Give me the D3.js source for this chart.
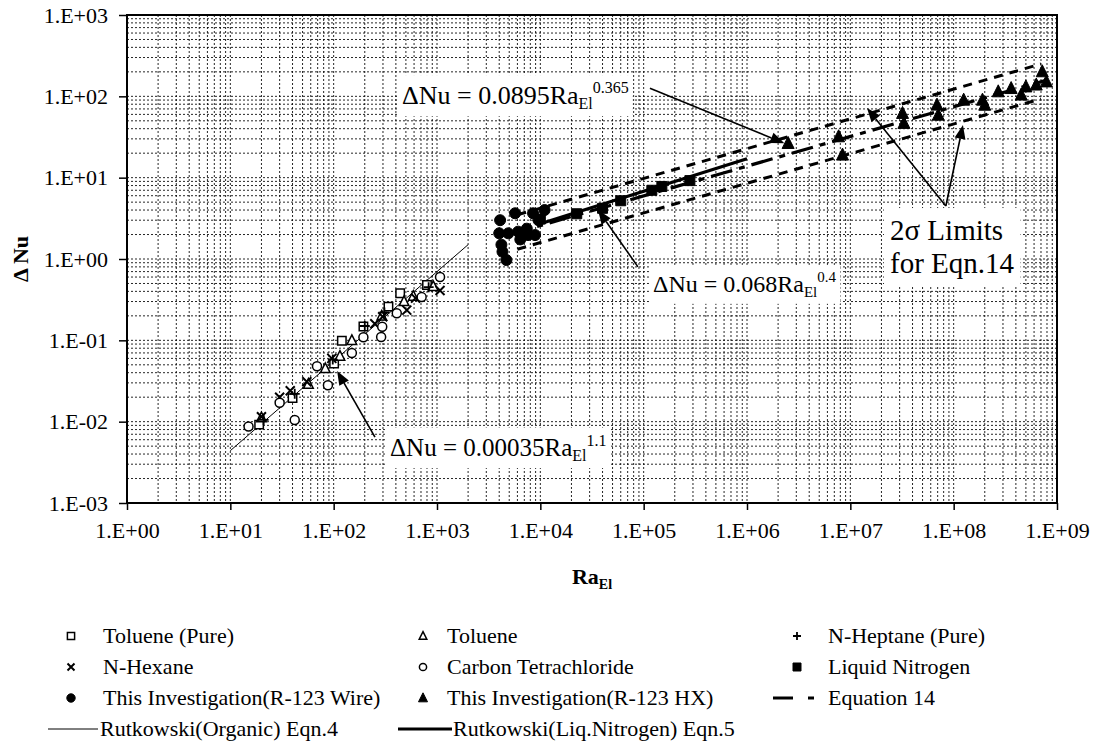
<!DOCTYPE html>
<meta charset="utf-8">
<style>
body { margin: 0; background: #fff; }
text { font-family: "Liberation Serif", "Times New Roman", serif; fill: #000; }
.grid line { stroke: #000; stroke-width: 1; stroke-dasharray: 2,2; stroke-opacity: 0.85; }
.axis text { font-size: 22px; font-family: "Liberation Serif", serif; }
.axis line { stroke: #000; stroke-width: 1.5; }
.legend text { font-size: 22px; }
</style>
<svg width="1096" height="754"></svg>
<script src="https://d3js.org/d3.v7.min.js"></script>
<script>

// [Ra_El, delta Nu]
var toluenePure = [[19,0.0092],[40,0.0195],[101,0.052],[120,0.099],[194,0.148],[339,0.26],[440,0.38],[800,0.48]];
var toluene = [[20,0.0112],[57,0.029],[83,0.045],[115,0.064],[150,0.1],[292,0.2],[480,0.3],[590,0.35],[920,0.46]];
var nHeptane = [[21,0.0105],[42,0.022],[98,0.058],[200,0.15],[310,0.22],[830,0.45]];
var nHexane = [[20,0.0115],[30,0.02],[38,0.024],[55,0.031],[96,0.06],[250,0.16],[298,0.195],[510,0.235],[620,0.33],[1070,0.41]];
var carbonTet = [[15,0.0087],[30,0.0171],[42,0.0105],[69,0.048],[88,0.028],[150,0.07],[194,0.109],[288,0.11],[295,0.147],[408,0.215],[710,0.34],[1070,0.6]];
var liquidN2 = [[10000,3.1],[22500,3.6],[40000,4.2],[60000,5.2],[120000,7.0],[150000,7.8],[280000,9.2]];
var r123Wire = [[4000,2.07],[4080,3.0],[4200,1.5],[4300,1.23],[4700,0.97],[4900,2.07],[5700,3.65],[6100,2.17],[6400,1.74],[7400,2.36],[7600,1.97],[8500,3.65],[8900,1.97],[9600,3.0],[11000,4.0]];
var r123HX = [[2.5e6,26.4],[7.7e6,31.9],[8.4e6,19.0],[3.2e7,61.8],[3.3e7,46.6],[6.9e7,78.2],[7.1e7,58.9],[1.25e8,90],[1.9e8,90],[2.0e8,78],[2.7e8,114],[3.6e8,125],[4.5e8,104],[5.0e8,131],[6.3e8,138],[7.2e8,201],[7.9e8,151]];

// correlation lines (end points)
var rutkowskiOrganic = [[10,0.0044],[2000,1.5]];
var rutkowskiLN2 = [[1e4,2.71],[1e6,17.1]];
var eq14 = [[5000,2.0],[8e8,159]];
var eq14Upper = [[6000,3.5],[7e8,250]];
var eq14Lower = [[6000,1.32],[7e8,93]];

var xDecades = [0,1,2,3,4,5,6,7,8,9];
var yDecades = [-3,-2,-1,0,1,2,3];

var svg = d3.select("svg"),
    margin = {top: 15, right: 39, bottom: 251, left: 127},
    width = +svg.attr("width") - margin.left - margin.right,
    height = +svg.attr("height") - margin.top - margin.bottom;

var x = d3.scaleLog().domain([1, 1e9]).range([0, width]);
var y = d3.scaleLog().domain([1e-3, 1e3]).range([height, 0]);

var g = svg.append("g").attr("transform", "translate(" + margin.left + "," + margin.top + ")");

function fmt(v) {
  var e = Math.round(Math.log10(v));
  return "1.E" + (e < 0 ? "-" : "+") + (Math.abs(e) < 10 ? "0" : "") + Math.abs(e);
}

// grid
var grid = g.append("g").attr("class", "grid");
grid.selectAll(".gx").data(x.ticks(20)).enter().append("line")
    .attr("x1", d => x(d)).attr("x2", d => x(d)).attr("y1", 0).attr("y2", height);
grid.selectAll(".gy").data(y.ticks(20)).enter().append("line")
    .attr("y1", d => y(d)).attr("y2", d => y(d)).attr("x1", 0).attr("x2", width);

// axes
g.append("g").attr("class", "axis")
    .attr("transform", "translate(0," + height + ")")
    .call(d3.axisBottom(x).tickValues(xDecades.map(p => Math.pow(10, p))).tickFormat(fmt)
      .tickSize(7).tickPadding(12).tickSizeOuter(0))
    .call(s => s.select(".domain").remove());
g.append("g").attr("class", "axis")
    .call(d3.axisLeft(y).tickValues(yDecades.map(p => Math.pow(10, p))).tickFormat(fmt)
      .tickSize(8).tickPadding(11).tickSizeOuter(0))
    .call(s => s.select(".domain").remove());

// axis titles
svg.append("text")
    .attr("transform", "translate(28," + (margin.top + height / 2) + ") rotate(-90)")
    .attr("text-anchor", "middle")
    .style("font-size", "22px").style("font-weight", "bold")
    .text("\u0394 Nu");
var xt = svg.append("text")
    .attr("x", margin.left + width / 2).attr("y", 584)
    .attr("text-anchor", "middle")
    .style("font-size", "22px").style("font-weight", "bold");
xt.append("tspan").text("Ra");
xt.append("tspan").attr("dy", 5).style("font-size", "14px").text("El");

// annotation boxes + text
var notes = g.append("g");

function eqText(xv, yv, coef, exp, size) {
  var t = notes.append("text").attr("x", x(xv)).attr("y", y(yv)).style("font-size", size + "px");
  t.append("tspan").text("\u0394Nu = " + coef + "Ra");
  t.append("tspan").attr("dy", size * 0.2).style("font-size", Math.round(size * 0.62) + "px").text("El");
  t.append("tspan").attr("dy", -size * 0.62).style("font-size", Math.round(size * 0.62) + "px").text(exp);
  return t;
}
function box(t, pad) {
  var b = t.node().getBBox();
  notes.insert("rect", function() { return t.node(); })
      .attr("x", b.x - pad).attr("y", b.y - pad)
      .attr("width", b.width + 2 * pad).attr("height", b.height + 2 * pad)
      .attr("fill", "#fff");
}

box(eqText(351, 0.00378, "0.00035", "1.1", 25), 4);
box(eqText(123000, 0.393, "0.068", "0.4", 24), 4);
box(eqText(459, 80.5, "0.0895", "0.365", 26), 4);

var sig = notes.append("g");
sig.append("text").attr("x", x(2.42e7)).attr("y", y(1.71)).style("font-size", "29px").text("2\u03c3 Limits");
sig.append("text").attr("x", x(2.42e7)).attr("y", y(0.673)).style("font-size", "29px").text("for Eqn.14");
var sb = sig.node().getBBox();
sig.insert("rect", "text").attr("x", sb.x - 6).attr("y", sb.y - 6)
    .attr("width", sb.width + 12).attr("height", sb.height + 12).attr("fill", "#fff");

// lines
var line = d3.line().x(d => x(d[0])).y(d => y(d[1]));
var lines = g.append("g").attr("fill", "none").attr("stroke", "#000");
lines.append("path").datum(rutkowskiOrganic).attr("d", line).attr("stroke-width", 1);
lines.append("path").datum(rutkowskiLN2).attr("d", line).attr("stroke-width", 3.2);
lines.append("path").datum(eq14).attr("d", line).attr("stroke-width", 3.2).attr("stroke-dasharray", "22,7,6,7");
lines.append("path").datum(eq14Upper).attr("d", line).attr("stroke-width", 3).attr("stroke-dasharray", "9,7");
lines.append("path").datum(eq14Lower).attr("d", line).attr("stroke-width", 3).attr("stroke-dasharray", "9,7");

// marker shapes
function shape(type, s) {
  switch (type) {
    case "square": return "M" + -s + "," + -s + "h" + 2 * s + "v" + 2 * s + "h" + -2 * s + "Z";
    case "triangle": return "M0," + (-1.15 * s) + "L" + s + "," + (0.85 * s) + "L" + -s + "," + (0.85 * s) + "Z";
    case "circle": return "M" + s + ",0A" + s + "," + s + " 0 1,1 " + -s + ",0A" + s + "," + s + " 0 1,1 " + s + ",0Z";
    case "plus": return "M" + -s + ",0H" + s + "M0," + -s + "V" + s;
    case "cross": return "M" + -s + "," + -s + "L" + s + "," + s + "M" + -s + "," + s + "L" + s + "," + -s;
  }
}

var series = [
  {name: "Toluene (Pure)", data: toluenePure, type: "square", fill: "#fff", size: 4.2, lsize: 3.6, sw: 1.5},
  {name: "Toluene", data: toluene, type: "triangle", fill: "#fff", size: 4.8, lsize: 3.8, sw: 1.5},
  {name: "N-Heptane (Pure)", data: nHeptane, type: "plus", fill: "none", size: 5, lsize: 4, sw: 1.8},
  {name: "N-Hexane", data: nHexane, type: "cross", fill: "none", size: 4.5, lsize: 3.5, sw: 2},
  {name: "Carbon Tetrachloride", data: carbonTet, type: "circle", fill: "#fff", size: 4.5, lsize: 3.6, sw: 1.5},
  {name: "Liquid Nitrogen", data: liquidN2, type: "square", fill: "#000", size: 5, lsize: 4, sw: 1},
  {name: "This Investigation(R-123 Wire)", data: r123Wire, type: "circle", fill: "#000", size: 5.5, lsize: 4.2, sw: 1},
  {name: "This Investigation(R-123 HX)", data: r123HX, type: "triangle", fill: "#000", size: 6, lsize: 4.5, sw: 1}
];

var marks = g.append("g");
series.forEach(function(s) {
  marks.append("g").selectAll("path").data(s.data).enter().append("path")
      .attr("transform", d => "translate(" + x(d[0]) + "," + y(d[1]) + ")")
      .attr("d", shape(s.type, s.size))
      .attr("fill", s.fill).attr("stroke", "#000").attr("stroke-width", s.sw);
});

// arrows
var arrows = g.append("g");
function arrow(p, q) {
  var x1 = x(p[0]), y1 = y(p[1]), x2 = x(q[0]), y2 = y(q[1]);
  var a = Math.atan2(y2 - y1, x2 - x1), L = 14, W = 5.5;
  var bx = x2 - L * Math.cos(a), by = y2 - L * Math.sin(a);
  arrows.append("line").attr("x1", x1).attr("y1", y1).attr("x2", bx).attr("y2", by)
      .attr("stroke", "#000").attr("stroke-width", 1.6);
  arrows.append("path")
      .attr("d", "M" + x2 + "," + y2 + "L" + (bx + W * Math.sin(a)) + "," + (by - W * Math.cos(a)) +
                 "L" + (bx - W * Math.sin(a)) + "," + (by + W * Math.cos(a)) + "Z")
      .attr("fill", "#000");
}
arrow([251, 0.00647], [108, 0.042]);
arrow([88100, 0.80], [36200, 4.0]);
arrow([115000, 126], [2.3e6, 26.5]);
arrow([8.4e7, 4.48], [1.45e7, 71.9]);
arrow([8.4e7, 4.48], [1.23e8, 44.4]);

// frame
g.append("rect").attr("width", width).attr("height", height)
    .attr("fill", "none").attr("stroke", "#000").attr("stroke-width", 2);

// legend
var legend = svg.append("g").attr("class", "legend");
var colMark = [71, 423, 797], colText = [103, 447, 828], rowY = [636, 667, 698, 729];
series.forEach(function(s, i) {
  var cx = colMark[i % 3], cy = rowY[Math.floor(i / 3)];
  legend.append("path").attr("transform", "translate(" + cx + "," + cy + ")")
      .attr("d", shape(s.type, s.lsize))
      .attr("fill", s.fill).attr("stroke", "#000").attr("stroke-width", s.sw);
  legend.append("text").attr("x", colText[i % 3]).attr("y", cy + 7).text(s.name);
});
// Equation 14 entry
legend.append("line").attr("x1", 773).attr("x2", 793).attr("y1", rowY[2]).attr("y2", rowY[2])
    .attr("stroke", "#000").attr("stroke-width", 3);
legend.append("line").attr("x1", 808).attr("x2", 814).attr("y1", rowY[2]).attr("y2", rowY[2])
    .attr("stroke", "#000").attr("stroke-width", 3);
legend.append("text").attr("x", 828).attr("y", rowY[2] + 7).text("Equation 14");
// Rutkowski entries
legend.append("line").attr("x1", 48).attr("x2", 98).attr("y1", rowY[3]).attr("y2", rowY[3])
    .attr("stroke", "#000").attr("stroke-width", 1);
legend.append("text").attr("x", 100).attr("y", rowY[3] + 7).text("Rutkowski(Organic) Eqn.4");
legend.append("line").attr("x1", 398).attr("x2", 452).attr("y1", rowY[3]).attr("y2", rowY[3])
    .attr("stroke", "#000").attr("stroke-width", 3);
legend.append("text").attr("x", 453).attr("y", rowY[3] + 7).text("Rutkowski(Liq.Nitrogen) Eqn.5");

</script>
